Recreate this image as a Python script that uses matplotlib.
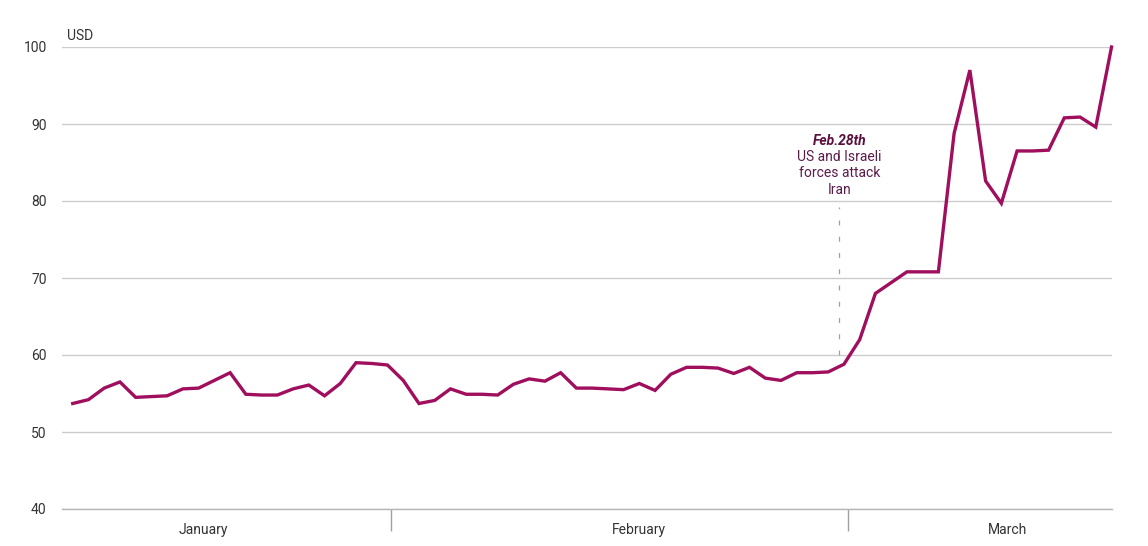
import numpy as np
import matplotlib.pyplot as plt

plt.rcParams['font.family'] = ['Roboto', 'DejaVu Sans']

# daily price, USD
price = [
    53.7, 54.2, 55.7, 56.5, 54.5, 54.6, 54.7, 55.6, 55.7, 56.7,
    57.7, 54.9, 54.8, 54.8, 55.6, 56.1, 54.7, 56.3, 59.0, 58.9,
    58.7, 56.7, 53.7, 54.1, 55.6, 54.9, 54.9, 54.8, 56.2, 56.9,
    56.6, 57.7, 55.7, 55.7, 55.6, 55.5, 56.3, 55.4, 57.5, 58.4,
    58.4, 58.3, 57.6, 58.4, 57.0, 56.7, 57.7, 57.7, 57.8, 58.8,
    62.0, 68.0, 69.4, 70.8, 70.8, 70.8, 88.8, 97.0, 82.6, 79.7,
    86.5, 86.5, 86.6, 90.8, 90.9, 89.6, 100.0,
]
months = ["January", "February", "March"]
month_label_pos = [8.3, 36.0, 59.4]
month_edges = [20.25, 49.25]
event_pos = 48.7
event_title = "Feb.28th"
event_text = "US and Israeli\nforces attack\nIran"
y_ticks = [40, 50, 60, 70, 80, 90, 100]

line_color = "#a00f5d"
grid_color = "#cccccc"
text_color = "#333333"

fig = plt.figure(figsize=(11.48, 5.46), dpi=100)
ax = fig.add_axes([62 / 1148, 37 / 546, 1050 / 1148, 462 / 546])

x = np.arange(len(price))
ax.plot(x, price, color=line_color, lw=2.4, solid_joinstyle="miter", clip_on=False, zorder=3)

ax.set_xlim(-0.68, 66.03)
ax.set_ylim(40, 100)
ax.set_yticks(y_ticks)
ax.yaxis.grid(True, color=grid_color, lw=1)
ax.set_axisbelow(True)

for s in ["top", "right", "left"]:
    ax.spines[s].set_visible(False)
ax.spines["bottom"].set_color("#b5b5b5")
ax.spines["bottom"].set_linewidth(1)

ax.tick_params(axis="y", length=0, pad=11, labelsize=10, labelcolor=text_color)
ax.set_xticks(month_label_pos)
ax.set_xticklabels(months)
ax.tick_params(axis="x", which="major", length=0, pad=10, labelsize=10, labelcolor=text_color)
ax.set_xticks(month_edges, minor=True)
ax.tick_params(axis="x", which="minor", length=16, width=1, color="#a0a0a0", direction="out")

ax.text(0.005, 1.008, "USD", transform=ax.transAxes, ha="left", va="bottom",
        fontsize=10, color=text_color)

# event marker
ax.plot([event_pos, event_pos], [60, 79.2], color="#a0a0a0", lw=0.9,
        dashes=(4, 9), zorder=2)
ax.text(event_pos, 87.8, event_title, ha="center", va="center", fontsize=10,
        fontweight="bold", fontstyle="italic", color="#5a0f3d")
ax.text(event_pos, 86.6, event_text, ha="center", va="top", fontsize=10,
        linespacing=1.2, color="#5b1c4c")

fig.savefig("out.png", dpi=100)
